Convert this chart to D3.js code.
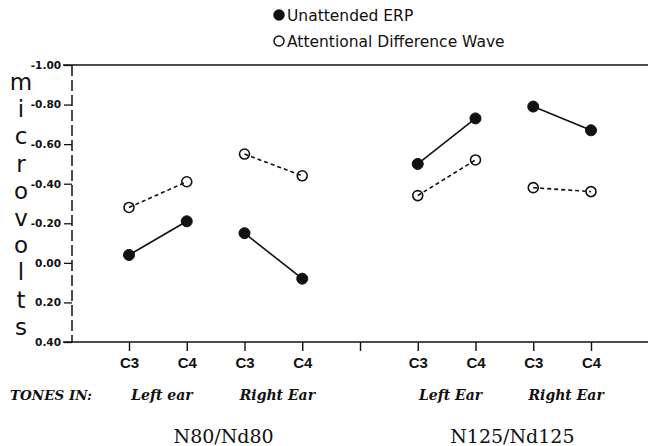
<!DOCTYPE html>
<html lang="en">
<head>
<meta charset="UTF-8">
<title>Unattended ERP vs Attentional Difference Wave</title>
<script src="https://d3js.org/d3.v7.min.js"></script>
<style>
  body { margin: 0; background: #fff; }
  svg { display: block; }
</style>
</head>
<body>
<svg width="648" height="446"></svg>
<script>
// values in microvolts, axis runs -1.00 (top) to 0.40 (bottom)
const electrodes = ['C3', 'C4', 'C3', 'C4', 'C3', 'C4', 'C3', 'C4'];
const slots = [0, 1, 2, 3, 5, 6, 7, 8];   // slot 4 is the gap between components
const unattended = [-0.04, -0.21, -0.15, 0.08, -0.50, -0.73, -0.79, -0.67];
const attentional = [-0.28, -0.41, -0.55, -0.44, -0.34, -0.52, -0.38, -0.36];
const earLabels = ['Left ear', 'Right Ear', 'Left Ear', 'Right Ear'];
const components = ['N80/Nd80', 'N125/Nd125'];
const yTicks = [-1.0, -0.8, -0.6, -0.4, -0.2, 0.0, 0.2, 0.4];
const yLetters = 'microvolts'.split('');

const svg = d3.select('svg');

const x = d3.scaleLinear().domain([0, 8]).range([129, 591]);
const y = d3.scaleLinear().domain([-1.0, 0.4]).range([65, 342]);

const axisX = 72;
const serif = "'DejaVu Serif', serif";
const sans = "'DejaVu Sans', sans-serif";

// top frame line
svg.append('line')
    .attr('x1', 63).attr('x2', 648)
    .attr('y1', y(-1.0)).attr('y2', y(-1.0))
    .attr('stroke', '#111').attr('stroke-width', 1.6);

// y axis (dashed)
svg.append('line')
    .attr('x1', axisX).attr('x2', axisX)
    .attr('y1', y(-1.0)).attr('y2', y(0.4))
    .attr('stroke', '#111').attr('stroke-width', 1.5)
    .attr('stroke-dasharray', '11,4');

const yAxis = d3.axisLeft(y)
    .tickValues(yTicks)
    .tickSize(8)
    .tickPadding(3)
    .tickFormat(d => d.toFixed(2));

const gy = svg.append('g')
    .attr('transform', `translate(${axisX},0)`)
    .call(yAxis);
gy.select('.domain').remove();
gy.selectAll('.tick line').attr('stroke', '#111').attr('stroke-width', 1.3);
gy.selectAll('.tick text')
    .attr('font-family', sans)
    .attr('font-weight', 'bold')
    .attr('font-size', 10.5)
    .attr('fill', '#111');

// x axis
svg.append('line')
    .attr('x1', 63).attr('x2', 648)
    .attr('y1', y(0.4)).attr('y2', y(0.4))
    .attr('stroke', '#111').attr('stroke-width', 1.6);

const xAxis = d3.axisBottom(x)
    .tickValues(d3.range(0, 9))
    .tickSize(9)
    .tickPadding(6)
    .tickFormat(d => {
        const i = slots.indexOf(d);
        return i < 0 ? '' : electrodes[i];
    });

const gx = svg.append('g')
    .attr('transform', `translate(0,${y(0.4)})`)
    .call(xAxis);
gx.select('.domain').remove();
gx.selectAll('.tick line').attr('stroke', '#111').attr('stroke-width', 1.4);
gx.selectAll('.tick text')
    .attr('font-family', "'Liberation Sans', Arial, sans-serif")
    .attr('font-weight', 'bold')
    .attr('font-size', 15)
    .attr('fill', '#111');

// vertical "microvolts" label
svg.append('g').selectAll('text')
    .data(yLetters)
    .join('text')
    .attr('x', 21)
    .attr('y', (d, i) => 90 + i * 27.2)
    .attr('text-anchor', 'middle')
    .attr('font-family', sans)
    .attr('font-size', 23)
    .attr('fill', '#111')
    .text(d => d);

// series: pairs of points (C3 -> C4) connected
const pairs = d3.range(0, slots.length, 2);

function drawSeries(values, filled, dash) {
    const g = svg.append('g');
    g.selectAll('line')
        .data(pairs)
        .join('line')
        .attr('x1', i => x(slots[i]))
        .attr('y1', i => y(values[i]))
        .attr('x2', i => x(slots[i + 1]))
        .attr('y2', i => y(values[i + 1]))
        .attr('stroke', '#111')
        .attr('stroke-width', 1.6)
        .attr('stroke-dasharray', dash);
    g.selectAll('circle')
        .data(values)
        .join('circle')
        .attr('cx', (d, i) => x(slots[i]))
        .attr('cy', d => y(d))
        .attr('r', filled ? 5.5 : 5)
        .attr('fill', filled ? '#111' : 'none')
        .attr('stroke', '#111')
        .attr('stroke-width', filled ? 1 : 1.6);
}

drawSeries(attentional, false, '4,3');
drawSeries(unattended, true, null);

// legend
const legend = [
    { label: 'Unattended ERP', filled: true },
    { label: 'Attentional Difference Wave', filled: false }
];
const lg = svg.append('g');
lg.selectAll('circle')
    .data(legend)
    .join('circle')
    .attr('cx', 279)
    .attr('cy', (d, i) => 15 + i * 26)
    .attr('r', 5)
    .attr('fill', d => d.filled ? '#111' : 'none')
    .attr('stroke', '#111')
    .attr('stroke-width', 1.5);
lg.selectAll('text')
    .data(legend)
    .join('text')
    .attr('x', 287)
    .attr('y', (d, i) => 20.5 + i * 26)
    .attr('font-family', sans)
    .attr('font-size', 15.5)
    .attr('fill', '#111')
    .text(d => d.label);

// "TONES IN:" and ear labels
svg.append('text')
    .attr('x', 10)
    .attr('y', 400)
    .attr('font-family', serif)
    .attr('font-style', 'italic')
    .attr('font-weight', 'bold')
    .attr('font-size', 13.5)
    .attr('fill', '#111')
    .text('TONES IN:');

svg.append('g').selectAll('text')
    .data(earLabels)
    .join('text')
    .attr('x', (d, i) => (x(slots[i * 2]) + x(slots[i * 2 + 1])) / 2 + 4)
    .attr('y', 400)
    .attr('text-anchor', 'middle')
    .attr('font-family', serif)
    .attr('font-style', 'italic')
    .attr('font-weight', 'bold')
    .attr('font-size', 14)
    .attr('fill', '#111')
    .text(d => d);

svg.append('g').selectAll('text')
    .data(components)
    .join('text')
    .attr('x', (d, i) => (x(slots[i * 4]) + x(slots[i * 4 + 3])) / 2 + 8)
    .attr('y', 443)
    .attr('text-anchor', 'middle')
    .attr('font-family', serif)
    .attr('font-size', 19)
    .attr('fill', '#111')
    .text(d => d);
</script>
</body>
</html>
